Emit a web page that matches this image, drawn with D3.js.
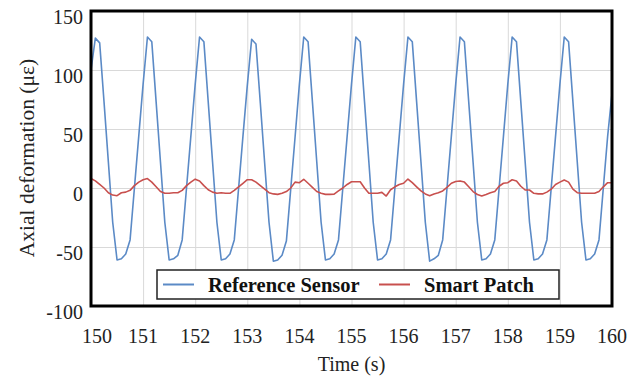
<meta charset="utf-8">
<style type="text/css">
    body { margin: 0; background: #fff; }

    .grid line {
        stroke: #d9d9d9;
        stroke-width: 1;
    }
    .grid path { display: none; }

    .line {
        fill: none;
        stroke-width: 1.6;
        stroke-linejoin: round;
    }

    .tick-label, .axis-title {
        font-family: "Liberation Serif", "Times New Roman", serif;
        font-size: 20px;
        fill: #222;
    }

    .legend text {
        font-family: "Liberation Serif", "Times New Roman", serif;
        font-size: 20.5px;
        font-weight: bold;
        fill: #111;
    }
</style>
<body>

<script src="https://d3js.org/d3.v7.min.js"></script>
<script>

// sampling grid: 12 samples per second from 150 s to 160 s
var startTime = 150,
    sampleStep = 1 / 12;

// Reference Sensor, one row per second
var referenceSensor = [
    100, 127, 123,  73,  22, -29, -61, -60, -56, -44,   0,  44,
     88, 128, 124,  73,  22, -29, -61, -60, -57, -44,   0,  44,
     88, 128, 124,  73,  22, -29, -61, -60, -56, -44,   0,  44,
     87, 126, 122,  72,  21, -29, -62, -61, -57, -45,  -1,  43,
     88, 128, 124,  73,  22, -29, -61, -60, -56, -44,   0,  44,
     88, 128, 124,  73,  22, -29, -61, -60, -56, -44,   0,  44,
     88, 128, 124,  73,  22, -29, -62, -60, -57, -44,   0,  44,
     88, 128, 124,  73,  22, -29, -61, -60, -56, -44,   0,  44,
     88, 128, 124,  73,  22, -29, -61, -60, -56, -44,   0,  44,
     88, 128, 124,  73,  22, -29, -61, -60, -56, -44,   0,  44,
     80
];

// Smart Patch, one row per second
var smartPatch = [
    8,   6,   3,   0,  -4,  -6, -6.5, -4, -3.5, -2,   2,   5,
    7,   8,   5,   1,  -3, -4.5, -4.5, -4,  -4,  -2,   2,   5,
    7.5, 6,   2, -1.5, -3.5, -4.5, -4, -4.5, -4.5, -2,  1,   4,
    7,   7,   5,   2,  -1,  -4,  -5, -5.4, -4.5, -3,   0,   5,
    4.5, 7.4, 4, 0.5, -3, -4.5, -5.4, -5.4, -5.2, -2.5, 0,   3,
    5.3, 5.3, 5.3, 0, -4.5, -4.5, -4.5, -3.7, -6.8, -1.5, 1,  3,
    4,  7.6, 4.5,  1, -2.5, -5, -6.5, -5,  -4, -2.5, 0.5,  4,
    5.5, 6,   5,   1,  -3, -5.5, -6.8, -5.5, -4, -3,  1.5,  4,
    4.5, 7,   6, 1.5, -1.7, -1.7, -4.5, -5, -5, -3.5, -1,  3,
    5, 6.8,   5,  -1,  -4, -4.5, -4.5, -4.5, -4.5, -3,  1, 4.5,
    4.5
];

var xTicks = [150, 151, 152, 153, 154, 155, 156, 157, 158, 159, 160];
var yTicks = [-100, -50, 0, 50, 100, 150];

var seriesNames = ["Reference Sensor", "Smart Patch"];
var seriesColors = ["#5b8ac6", "#c8504e"];

// set the dimensions and margins of the graph
var margin = {top: 11, right: 32, bottom: 71, left: 91},
    width = 644 - margin.left - margin.right,
    height = 377 - margin.top - margin.bottom;

var x = d3.scaleLinear().domain([150, 160]).range([0, width]);
var y = d3.scaleLinear().domain([-100, 150]).range([height, 0]);

var svg = d3.select("body").append("svg")
    .attr("width", 644)
    .attr("height", 377)
  .append("g")
    .attr("transform", "translate(" + margin.left + "," + margin.top + ")");

// gridlines
svg.append("g")
    .attr("class", "grid")
    .attr("transform", "translate(0," + height + ")")
    .call(d3.axisBottom(x).tickValues(xTicks).tickSize(-height).tickFormat(""));

svg.append("g")
    .attr("class", "grid")
    .call(d3.axisLeft(y).tickValues(yTicks).tickSize(-width).tickFormat(""));

// the two series
var series = [referenceSensor, smartPatch];

var valueline = d3.line()
    .x(function(d, i) { return x(startTime + i * sampleStep); })
    .y(function(d) { return y(d); });

svg.selectAll(".line")
    .data(series)
  .enter().append("path")
    .attr("class", "line")
    .attr("stroke", function(d, i) { return seriesColors[i]; })
    .attr("d", valueline);

// frame
svg.append("rect")
    .attr("x", 0)
    .attr("y", 0)
    .attr("width", width)
    .attr("height", height)
    .attr("fill", "none")
    .attr("stroke", "#000")
    .attr("stroke-width", 3);

// tick labels
svg.selectAll(".ylab")
    .data(yTicks)
  .enter().append("text")
    .attr("class", "tick-label")
    .attr("text-anchor", "end")
    .attr("x", -8)
    .attr("y", function(d) { return y(d) + 7; })
    .attr("dy", "0.32em")
    .text(function(d) { return d; });

svg.selectAll(".xlab")
    .data(xTicks)
  .enter().append("text")
    .attr("class", "tick-label")
    .attr("text-anchor", "middle")
    .attr("x", function(d) { return x(d) + (d === 150 ? 6 : 0); })
    .attr("y", height + 31)
    .attr("dy", "0.32em")
    .text(function(d) { return d; });

// axis titles
svg.append("text")
    .attr("class", "axis-title")
    .attr("text-anchor", "middle")
    .attr("x", width / 2)
    .attr("y", height + 59)
    .attr("dy", "0.32em")
    .text("Time (s)");

svg.append("text")
    .attr("class", "axis-title")
    .attr("text-anchor", "middle")
    .style("font-size", "21.5px")
    .attr("transform", "translate(" + (27 - margin.left) + "," + (158 - margin.top) + ") rotate(-90)")
    .attr("dy", "0.32em")
    .text("Axial deformation (\u03bc\u03b5)");

// legend
var legend = svg.append("g")
    .attr("class", "legend")
    .attr("transform", "translate(" + (157 - margin.left) + "," + (270 - margin.top) + ")");

legend.append("rect")
    .attr("width", 402)
    .attr("height", 29)
    .attr("fill", "#fff")
    .attr("stroke", "#222")
    .attr("stroke-width", 1.5);

var legendX = [6, 222];

var item = legend.selectAll(".item")
    .data(seriesNames)
  .enter().append("g")
    .attr("transform", function(d, i) { return "translate(" + legendX[i] + ",14.5)"; });

item.append("line")
    .attr("x1", 0)
    .attr("x2", 31)
    .attr("stroke", function(d, i) { return seriesColors[i]; })
    .attr("stroke-width", 2);

item.append("text")
    .attr("x", 45)
    .attr("dy", "0.35em")
    .text(function(d) { return d; });

</script>
</body>
